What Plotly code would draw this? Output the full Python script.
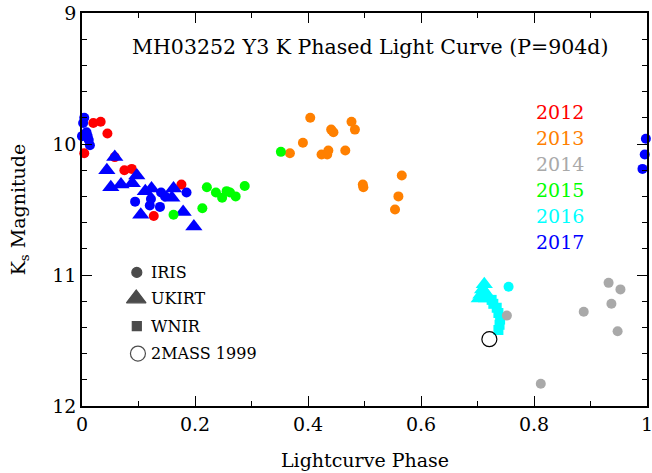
import plotly.graph_objects as go

# ---- data (phase, Ks magnitude) ----
y2012_iris_phase = [0.004, 0.020, 0.033, 0.045, 0.058, 0.075, 0.088, 0.127, 0.176]
y2012_iris_mag = [10.07, 9.84, 9.83, 9.92, 10.10, 10.20, 10.19, 10.55, 10.31]

y2013_iris_phase = [0.404, 0.391, 0.368, 0.441, 0.445, 0.477, 0.483, 0.424, 0.436,
                    0.434, 0.466, 0.497, 0.498, 0.566, 0.560, 0.554]
y2013_iris_mag = [9.80, 9.99, 10.07, 9.89, 9.91, 9.83, 9.89, 10.08, 10.05,
                  10.08, 10.05, 10.31, 10.33, 10.24, 10.40, 10.50]

y2014_iris_phase = [0.932, 0.953, 0.937, 0.888, 0.948, 0.812, 0.752]
y2014_iris_mag = [11.06, 11.11, 11.22, 11.28, 11.43, 11.83, 11.31]

y2015_iris_phase = [0.221, 0.237, 0.248, 0.256, 0.262, 0.272, 0.288, 0.213, 0.162, 0.352]
y2015_iris_mag = [10.33, 10.37, 10.41, 10.36, 10.37, 10.40, 10.32, 10.49, 10.54, 10.06]

y2016_iris_phase = [0.755]
y2016_iris_mag = [11.09]
y2016_ukirt_phase = [0.712, 0.709, 0.706, 0.713, 0.703, 0.716]
y2016_ukirt_mag = [11.07, 11.11, 11.15, 11.13, 11.18, 11.18]
y2016_wnir_phase = [0.725, 0.728, 0.734, 0.737, 0.740, 0.739, 0.737]
y2016_wnir_mag = [11.19, 11.22, 11.25, 11.29, 11.34, 11.38, 11.42]

y2017_iris_phase = [0.004, 0.002, 0.008, 0.000, 0.010, 0.012, 0.014,
                    0.122, 0.140, 0.147, 0.185, 0.094, 0.120, 0.138,
                    0.998, 0.996, 0.992]
y2017_iris_mag = [9.80, 9.84, 9.91, 9.94, 9.94, 9.97, 10.01,
                  10.42, 10.37, 10.40, 10.37, 10.44, 10.47, 10.48,
                  9.96, 10.08, 10.19]
y2017_ukirt_phase = [0.058, 0.044, 0.097, 0.051, 0.069, 0.089, 0.112, 0.123,
                     0.162, 0.159, 0.104, 0.179, 0.198]
y2017_ukirt_mag = [10.10, 10.20, 10.24, 10.33, 10.31, 10.30, 10.36, 10.34,
                   10.34, 10.41, 10.54, 10.52, 10.63]

twomass_phase = [0.721]
twomass_mag = [11.49]

year_labels = ["2012", "2013", "2014", "2015", "2016", "2017"]
year_colors = ["#FF0000", "#FF8000", "#A9A9A9", "#00FF00", "#00FFFF", "#0000FF"]
year_label_mag = [9.756, 9.954, 10.153, 10.351, 10.55, 10.748]

legend_labels = ["IRIS", "UKIRT", "WNIR", "2MASS 1999"]
legend_phase = [0.097, 0.096, 0.097, 0.099]
legend_mag = [10.98, 11.18, 11.39, 11.60]
legend_text_phase = 0.118

x_tickvals = [0, 0.2, 0.4, 0.6, 0.8, 1.0]
x_ticktext = ["0", "0.2", "0.4", "0.6", "0.8", "1"]
y_tickvals = [9, 10, 11, 12]
y_ticktext = ["9", "10", "11", "12"]

SERIF = "DejaVu Serif"

fig = go.Figure()

def add(px, py, color, symbol, size, line=None):
    fig.add_trace(go.Scatter(
        x=px, y=py, mode="markers", cliponaxis=False, showlegend=False,
        hoverinfo="skip",
        marker=dict(color=color, symbol=symbol, size=size,
                    line=line or dict(width=0))))

CIRC = 10
TRI = 15
SQ = 10

add(y2012_iris_phase, y2012_iris_mag, year_colors[0], "circle", CIRC)
add(y2013_iris_phase, y2013_iris_mag, year_colors[1], "circle", CIRC)
add(y2017_ukirt_phase, y2017_ukirt_mag, year_colors[5], "triangle-up", TRI)
add(y2016_ukirt_phase, y2016_ukirt_mag, year_colors[4], "triangle-up", TRI)
add(y2016_wnir_phase, y2016_wnir_mag, year_colors[4], "square", SQ)
add(y2014_iris_phase, y2014_iris_mag, year_colors[2], "circle", CIRC)
add(y2015_iris_phase, y2015_iris_mag, year_colors[3], "circle", CIRC)
add(y2016_iris_phase, y2016_iris_mag, year_colors[4], "circle", CIRC)
add(y2017_iris_phase, y2017_iris_mag, year_colors[5], "circle", CIRC)
add(twomass_phase, twomass_mag, "black", "circle-open", 15,
    dict(width=1.2, color="black"))

# custom legend markers
leg_symbols = ["circle", "triangle-up", "square", "circle-open"]
leg_sizes = [10, 17, 9, 15]
fig.add_trace(go.Scatter(
    x=legend_phase, y=legend_mag, mode="markers", cliponaxis=False,
    showlegend=False, hoverinfo="skip",
    marker=dict(color="black", symbol=leg_symbols, size=leg_sizes,
                line=dict(width=1.2, color="black"))))

annotations = []
for lab, ly in zip(legend_labels, legend_mag):
    annotations.append(dict(x=legend_text_phase, y=ly, xref="x", yref="y", text=lab,
                            showarrow=False, xanchor="left", yanchor="middle",
                            font=dict(family=SERIF, size=16, color="black")))
for lab, col, ym in zip(year_labels, year_colors, year_label_mag):
    annotations.append(dict(x=0.80, y=ym, xref="x", yref="y", text=lab,
                            showarrow=False, xanchor="left", yanchor="middle",
                            font=dict(family=SERIF, size=19, color=col)))
annotations.append(dict(x=0.51, y=9.26, xref="x", yref="y",
                        text="MH03252 Y3 K Phased Light Curve (P=904d)",
                        showarrow=False, xanchor="center", yanchor="middle",
                        font=dict(family=SERIF, size=20.5, color="black")))
annotations.append(dict(x=0.5, y=-0.137, xref="paper", yref="paper",
                        text="Lightcurve Phase", showarrow=False,
                        xanchor="center", yanchor="middle",
                        font=dict(family=SERIF, size=19, color="black")))
annotations.append(dict(x=-0.110, y=0.5, xref="paper", yref="paper",
                        text="K<sub>s</sub> Magnitude", showarrow=False,
                        textangle=-90, xanchor="center", yanchor="middle",
                        font=dict(family=SERIF, size=19, color="black")))

axis_common = dict(showline=True, linecolor="black", linewidth=1.6, mirror="ticks",
                   ticks="inside", ticklen=10, tickwidth=1.2, tickcolor="black",
                   showgrid=False, zeroline=False, automargin=False,
                   ticklabeloverflow="allow",
                   tickfont=dict(family=SERIF, size=19, color="black"))

fig.update_layout(
    width=652, height=473,
    margin=dict(l=82, r=5, t=13, b=67),
    paper_bgcolor="white", plot_bgcolor="white",
    hovermode=False,
    annotations=annotations,
    xaxis=dict(range=[0, 1], tickvals=x_tickvals, ticktext=x_ticktext,
               minor=dict(dtick=0.1, ticklen=5, ticks="inside", tickcolor="black", tickwidth=1.2),
               **axis_common),
    yaxis=dict(range=[12, 9], tickvals=y_tickvals, ticktext=y_ticktext,
               minor=dict(dtick=0.2, ticklen=5, ticks="inside", tickcolor="black", tickwidth=1.2),
               **axis_common),
)

fig.write_html("out.html")
